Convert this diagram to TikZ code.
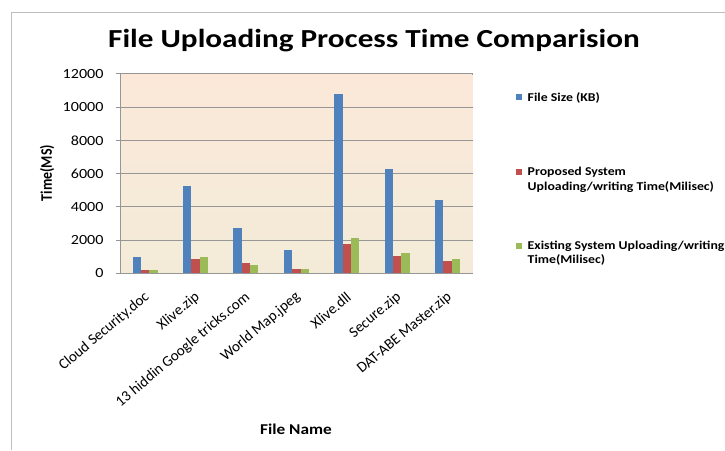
\documentclass[tikz,border=0pt]{standalone}
\usepackage{fontspec}
\setmainfont{Carlito}
\definecolor{barblue}{RGB}{79,129,189}
\definecolor{barred}{RGB}{192,80,77}
\definecolor{bargreen}{RGB}{155,187,89}
\definecolor{plottop}{RGB}{251,232,217}
\definecolor{plotbot}{RGB}{243,235,216}
\definecolor{gridgray}{RGB}{150,150,150}
\definecolor{framegray}{RGB}{190,190,190}
\begin{document}
\begin{tikzpicture}[x=1pt,y=-1pt,
  wide/.style={xscale=1.15, inner sep=0pt, outer sep=0pt},
  ticklbl/.style={wide, font=\fontsize{14}{14}\selectfont, anchor=east},
  catlbl/.style={inner sep=0pt, outer sep=0pt, font=\fontsize{15}{15}\selectfont, rotate=40, anchor=east},
  axtitle/.style={wide, font=\bfseries\fontsize{15}{15}\selectfont},
  legtext/.style={wide, font=\bfseries\fontsize{12}{12}\selectfont, anchor=base west},
  legkey/.style={minimum size=6pt, inner sep=0pt, outer sep=0pt},
  gridline/.style={gridgray, line width=1pt}]
\useasboundingbox (0,0) rectangle (725,450);

% outer frame of the chart
\draw[framegray, line width=1.2pt] (11.5,450) -- (11.5,12.5) -- (725,12.5);

% title
\node[inner sep=0pt, xscale=1.2, font=\bfseries\fontsize{26}{26}\selectfont, anchor=base] (title) at (374,47.7)
  {File Uploading Process Time Comparision};

% plot area
\def\xl{120}\def\xr{472.7}\def\yb{273.3}\def\yt{74}
\fill[top color=plottop, bottom color=plotbot] (\xl,\yt) rectangle (\xr,\yb);

% horizontal grid lines and value labels
\foreach \k in {0,...,6}{
  \pgfmathsetmacro{\yy}{\yb-\k*33.22}
  \pgfmathtruncatemacro{\val}{\k*2000}
  \draw[gridline] (\xl-4,\yy) -- (\xr,\yy);
  \node[ticklbl] (tick-\k) at (103.5,\yy) {\val};
}
\draw[gridline] (\xl,\yt) -- (\xl,\yb);

% bars, three per file
\foreach \name/\vb/\vr/\vg [count=\i from 0] in {
  Cloud Security.doc/1000/200/200,
  Xlive.zip/5260/840/1000,
  13 hiddin Google tricks.com/2750/620/520,
  World Map.jpeg/1420/240/260,
  Xlive.dll/10820/1745/2100,
  Secure.zip/6300/1020/1220,
  DAT-ABE Master.zip/4400/720/840}{
  \pgfmathsetmacro{\cx}{\xl+25.2+50.386*\i}
  \pgfmathsetmacro{\hb}{\yb-\vb*0.016611}
  \pgfmathsetmacro{\hr}{\yb-\vr*0.016611}
  \pgfmathsetmacro{\hg}{\yb-\vg*0.016611}
  \fill[barblue] (\cx-12.5,\yb) rectangle (\cx-4.17,\hb);
  \fill[barred] (\cx-4.17,\yb) rectangle (\cx+4.17,\hr);
  \fill[bargreen] (\cx+4.17,\yb) rectangle (\cx+12.5,\hg);
  \node[catlbl] (cat-\i) at (\cx+2,\yb+22) {\name};
}
\draw[gridline] (\xl,\yb) -- (\xr,\yb);

% axis titles
\node[axtitle, font=\bfseries\fontsize{14}{14}\selectfont, rotate=90] (ytitle) at (47,173) {Time(MS)};
\node[axtitle, anchor=base] (xtitle) at (296,434.3) {File Name};

% legend
\node[legkey, fill=barblue] (key-a) at (519,97.3) {};
\node[legtext] (leg-a) at (527.7,101.7) {File Size (KB)};
\node[legkey, fill=barred] (key-b) at (519,171.7) {};
\node[legtext] (leg-b1) at (527.7,175.5) {Proposed System};
\node[legtext] (leg-b2) at (527.7,190) {Uploading/writing Time(Milisec)};
\node[legkey, fill=bargreen] (key-c) at (519,245.7) {};
\node[legtext] (leg-c1) at (527.7,249.5) {Existing System Uploading/writing};
\node[legtext] (leg-c2) at (527.7,263.5) {Time(Milisec)};
\end{tikzpicture}
\end{document}
